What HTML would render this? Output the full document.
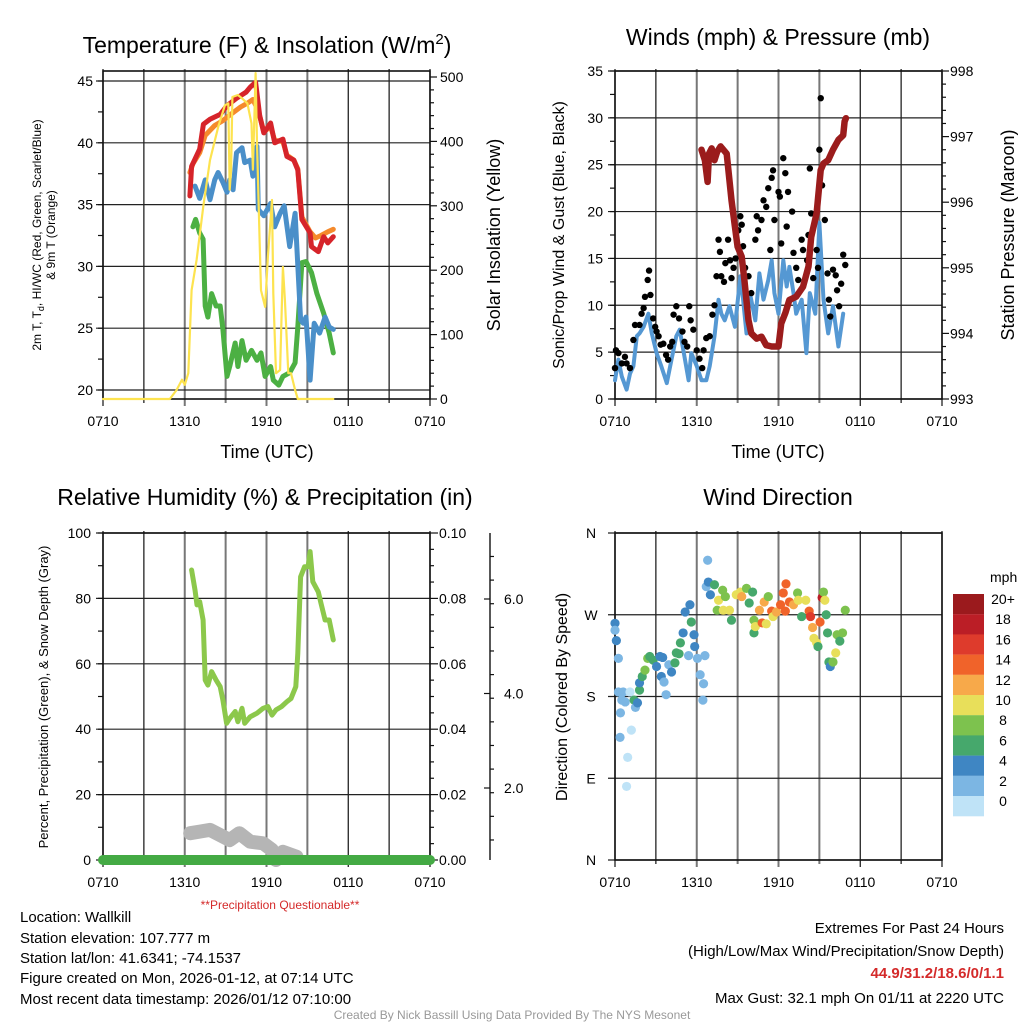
<!DOCTYPE html>
<html><head><meta charset="utf-8">
<style>
html,body{margin:0;padding:0;background:#fff;}
svg{display:block;font-family:"Liberation Sans",Arial,sans-serif;}
</style></head>
<body>
<svg id="chart" width="1024" height="1024" viewBox="0 0 1024 1024" xmlns="http://www.w3.org/2000/svg">
<rect x="0" y="0" width="1024" height="1024" fill="#fff"/>
<text x="267" y="53" font-size="23" text-anchor="middle">Temperature (F) &amp; Insolation (W/m<tspan dy="-9" font-size="15">2</tspan><tspan dy="9">)</tspan></text>
<text x="778" y="45" font-size="23" text-anchor="middle">Winds (mph) &amp; Pressure (mb)</text>
<text x="265" y="505" font-size="23" text-anchor="middle">Relative Humidity (%) &amp; Precipitation (in)</text>
<text x="778" y="505" font-size="23" text-anchor="middle">Wind Direction</text>

<text transform="translate(41,235) rotate(-90)" font-size="12" text-anchor="middle">2m T, T<tspan font-size="9" dy="3">d</tspan><tspan dy="-3">, HI/WC (Red, Green, Scarlet/Blue)</tspan></text>
<text transform="translate(55,235) rotate(-90)" font-size="12" text-anchor="middle">&amp; 9m T (Orange)</text>
<text transform="translate(500,235) rotate(-90)" font-size="18" text-anchor="middle">Solar Insolation (Yellow)</text>
<text x="267" y="458" font-size="18" text-anchor="middle">Time (UTC)</text>
<text x="778" y="458" font-size="18" text-anchor="middle">Time (UTC)</text>
<text transform="translate(564,235) rotate(-90)" font-size="16" text-anchor="middle">Sonic/Prop Wind &amp; Gust (Blue, Black)</text>
<text transform="translate(1014,235) rotate(-90)" font-size="18" text-anchor="middle">Station Pressure (Maroon)</text>
<text transform="translate(48,697) rotate(-90)" font-size="13" text-anchor="middle">Percent, Precipitation (Green), &amp; Snow Depth (Gray)</text>
<text transform="translate(567,697) rotate(-90)" font-size="16" text-anchor="middle">Direction (Colored By Speed)</text>
<text x="280" y="909" font-size="12" fill="#d42a2a" text-anchor="middle">**Precipitation Questionable**</text>

<g font-size="15">
<text x="20" y="922">Location: Wallkill</text>
<text x="20" y="943">Station elevation: 107.777 m</text>
<text x="20" y="963">Station lat/lon: 41.6341; -74.1537</text>
<text x="20" y="983">Figure created on Mon, 2026-01-12, at 07:14 UTC</text>
<text x="20" y="1004">Most recent data timestamp: 2026/01/12 07:10:00</text>
</g>
<g font-size="15" text-anchor="end">
<text x="1004" y="933">Extremes For Past 24 Hours</text>
<text x="1004" y="956">(High/Low/Max Wind/Precipitation/Snow Depth)</text>
<text x="1004" y="978" fill="#d42a2a" font-weight="bold">44.9/31.2/18.6/0/1.1</text>
<text x="1004" y="1003">Max Gust: 32.1 mph On 01/11 at 2220 UTC</text>
</g>
<text x="512" y="1019" font-size="12" fill="#999" text-anchor="middle">Created By Nick Bassill Using Data Provided By The NYS Mesonet</text>
</svg>
<script>
// ---------------- data ----------------
const xTickLabels = ["0710","1310","1910","0110","0710"];
const airT_h = [6.38,6.5,7.1,7.37,7.85,8.6,9.1,9.8,10.5,10.8,11.2,11.5,11.8,12.3,12.6,13.2,13.5,14,14.3,14.6,15.2,15.3,15.8,16.2,16.5,16.9];
const airT_v = [35.7,38.1,39.5,41.5,41.9,42.3,43.0,43.6,44.1,44.5,44.9,42.2,40.8,41.6,40.0,40.3,38.9,38.6,37.8,33.8,32.7,31.6,31.2,32.4,31.9,32.4];
const t9m_h = [6.38,6.6,7.1,7.5,8.2,8.8,9.5,10.1,10.6,11.0,11.4,11.8,12.3,12.6,13.2,13.5,14,14.3,14.6,15.2,15.6,16.0,16.5,16.9];
const t9m_v = [37.6,38.3,39.2,40.6,41.4,41.8,42.4,42.9,43.2,43.5,42.6,40.9,41.3,40.2,40.1,39.0,38.6,37.9,34.0,32.8,32.3,32.5,32.8,33.0];
const hiwc_h = [6.75,7.1,7.5,7.85,8.2,8.45,8.8,9.1,9.3,9.55,9.8,10.2,10.4,10.8,11,11.3,11.4,11.8,12.3,12.6,13,13.3,13.7,14.1,14.5,14.7,14.9,15.2,15.5,15.9,16.3,16.6,16.9];
const hiwc_v = [36.5,35.5,37,35.4,37,37.6,36.8,36.0,37,36.2,39.2,39.6,38.4,38.6,37.3,39.7,34.6,34.1,35.1,33.2,34.3,34.9,31.6,34.3,25.7,25.4,25.9,20.8,25.4,24.6,25.9,25.1,24.9];
const dew_h = [6.6,6.8,7.1,7.35,7.5,7.7,7.97,8.3,8.6,8.8,9.1,9.3,9.7,9.9,10.2,10.5,10.9,11.3,11.6,11.9,12.3,12.5,12.9,13.2,13.7,14.1,14.3,14.6,14.9,15.3,15.7,16.2,16.6,16.9];
const dew_v = [33.2,33.8,32.7,32.2,26.8,25.9,27.8,26.8,26.8,24.9,21.1,21.9,23.8,21.9,24,22.4,23.2,22.4,23,21.1,21.9,20.8,20.4,21.1,21.4,22.2,25.1,30.3,30.4,29.5,27.8,26.2,24.6,23];
const solar_h = [0,4.9,5.4,5.8,6,6.26,6.5,6.87,7.36,7.85,8.46,8.95,9.2,9.3,9.4,9.5,9.9,10.2,10.6,10.9,11,11.2,11.3,11.5,11.6,11.9,12.1,12.4,12.5,12.7,13,13.2,13.35,13.6,13.8,14.1,14.3,16.9];
const solar_v = [0,0,14,30,22,40,169,216,299,371,423,456,459,325,356,469,472,467,459,428,356,506,397,242,169,143,221,309,164,40,45,205,154,40,40,14,0,0];
const wind_h = [0,0.25,0.5,0.85,1.1,1.35,1.6,1.8,2.1,2.45,2.7,3.05,3.4,3.8,4.15,4.5,4.75,5.1,5.4,5.6,6.0,6.35,6.7,6.95,7.3,7.6,7.8,8.05,8.4,8.8,9.2,9.4,9.65,9.9,10.3,10.6,10.9,11.25,11.5,11.7,12,12.35,12.6,12.8,13.1,13.3,13.7,14.05,14.3,14.7,15,15.3,15.65,16,16.4,16.75];
const wind_v = [2.0,4.2,2.4,1.0,2.7,3.5,6.7,7.0,7.7,9.1,7.0,4.9,3.5,1.7,4.2,6.7,7.4,4.5,2.0,4.9,3.5,2.0,2.0,3.5,6.7,10.6,9.1,8.4,9.9,7.7,13.1,10.6,7.0,11.3,8.4,13.4,10.6,12.7,14.8,11.3,9.1,14.8,12.0,14.1,11.3,9.1,10.6,4.9,11.3,9.1,18.8,10.6,7.0,9.9,5.6,9.1];
const gust_h = [0,0.07,0.25,0.5,0.73,0.85,1.1,1.35,1.47,1.8,1.95,2.1,2.2,2.4,2.5,2.6,2.8,2.95,3.05,3.2,3.35,3.55,3.75,3.9,4.05,4.2,4.3,4.5,4.7,4.95,5.1,5.3,5.45,5.55,5.75,6,6.2,6.4,6.5,6.7,6.95,7.15,7.3,7.45,7.6,7.7,7.8,8,8.1,8.3,8.45,8.55,8.7,8.85,9.05,9.2,9.3,9.4,9.55,9.8,10,10.3,10.4,10.5,10.75,10.9,11.1,11.25,11.4,11.5,11.6,11.7,12,12.1,12.2,12.35,12.5,12.6,12.7,13,13.1,13.3,13.45,13.7,13.8,14.1,14.2,14.3,14.4,14.55,14.8,14.9,15,15.1,15.2,15.4,15.6,15.7,15.8,16,16.2,16.3,16.45,16.6,16.75,16.9];
const gust_v = [3.3,5.2,4.9,3.8,4.5,3.8,3.3,6.3,7.9,7.9,9.1,9.7,10.9,12.7,13.7,11.1,8.6,7.7,7.2,6.7,5.8,5.9,4.7,4.2,5.6,6.1,9.0,9.9,8.6,7.2,6.1,5.6,9.9,8.4,7.4,5.2,4.3,3.3,5.2,6.5,6.7,9.0,10.0,13.1,17.0,15.7,13.1,12.5,14.5,17.0,14.8,12.9,14.0,15.0,18.0,19.5,18.6,16.3,14.0,13.1,11.3,17.0,19.5,18.0,19.1,21.2,20.5,22.5,15.9,23.6,24.4,19.1,22.1,21.6,16.6,25.7,24.1,18.4,22.1,20.0,15.6,14.0,12.7,17.0,15.9,14.8,17.5,24.6,19.8,12.9,15.9,14.0,26.6,32.1,22.8,19.1,13.4,10.6,8.8,13.8,13.2,11.6,9.9,12.3,15.4,14.3];
const pres_h = [6.35,6.6,6.8,6.9,7.1,7.3,7.5,7.75,8.2,8.55,8.8,9.0,9.3,9.5,9.8,10,10.4,10.75,11.1,11.5,12,12.2,12.5,12.8,13.3,13.8,14.2,14.4,14.8,15.1,15.3,15.65,16,16.4,16.75,16.85,16.95];
const pres_v = [996.8,996.64,996.31,996.74,996.82,996.64,996.77,996.85,996.74,996.03,995.63,995.32,995.17,994.81,994.2,994.0,993.92,993.95,993.82,993.8,993.8,994.15,994.31,994.51,994.56,994.71,995.02,995.47,995.83,996.49,996.59,996.64,996.8,996.95,997.02,997.23,997.28];
const rh_h = [6.5,6.75,6.9,7.1,7.35,7.5,7.7,7.97,8.3,8.6,8.8,9.07,9.3,9.7,9.9,10.2,10.4,10.8,11.3,11.75,12.1,12.4,12.7,13.1,13.5,13.8,14.15,14.3,14.5,14.8,15.05,15.2,15.4,15.8,16,16.3,16.6,16.9];
const rh_v = [88.7,82.6,78,79,73.4,55,53.5,57.6,55,53,48.9,41.8,43.3,45.4,42.3,46.4,41.8,43.8,44.9,46.4,46.9,44.3,45.9,46.9,48.4,49.4,53,63.2,86.6,89.7,89.7,94.3,85.1,82,78.5,73.4,73.4,67.3];
const snow_h = [6.4,7.1,7.85,8.6,9.3,10,10.8,11.75,12.4,12.7,13.2,14.2];
const snow_v = [8.2,8.7,9.2,7.6,6.1,8.2,5.6,5.1,3.1,0,2.5,1];
const precip_h = [0,24];
const precip_v = [0,0];
const dir_h = [0,0,0.1,0.25,0.25,0.6,0.5,0.75,0.4,0.37,0.93,0.85,1.2,1.1,1.4,1.5,1.65,1.8,1.8,2,2.2,2.4,2.55,2.8,3.05,3.3,3.5,3.4,3.6,3.75,3.95,4.15,4.4,4.5,4.7,4.8,5,5.15,5.4,5.5,5.6,5.8,5.85,6.05,6.25,6.5,6.45,6.6,6.8,6.7,6.85,7.0,7.3,7.6,7.5,7.9,8.1,7.95,8.4,8.55,8.9,9.2,9.3,9.65,9.85,10.1,10.2,10.2,10.3,10.6,10.8,10.95,11.1,11.25,11.5,11.6,11.85,12.15,12.35,12.55,12.5,12.8,13.1,13.4,13.45,13.7,14,14.25,14.35,14.5,14.6,14.8,14.9,15.05,15.2,15.3,15.4,15.5,15.6,15.7,15.8,16,16.2,16.3,16.5,16.7,16.9];
const dir_deg = [260.6,253,241.5,222,185,185,176,174,162,135,113,81,143,185,176,168,173,187,195,202,209,222,224,220,213,224,223,202,196,182,215,207,217,228,227,239,250,273,225,281,262,248,235,222,204,194,176,225,330,301,306,292,303,286,275,297,290,275,275,264,292,295,290,299,283,295,264,250,257,275,261,284,260,290,274,268,273,281,294,304,274,284,281,294,286,268,286,274,268,256,244,239,235,262,289,295,286,270,250,218,213,218,228,248,241,250,275];
const dir_spd = [4,2,4,2,2,2,2,2,2,2,0,0,0,0,6,2,4,6,4,6,8,8,6,6,4,4,4,4,2,2,2,4,6,6,6,6,4,4,2,4,6,4,4,2,2,2,2,2,2,2,4,4,6,10,8,8,8,10,10,6,10,10,12,8,6,6,8,6,10,12,14,12,10,8,14,10,12,14,14,14,14,14,12,8,10,6,10,14,16,12,10,10,6,14,18,8,10,6,6,6,4,8,10,8,6,8,8];
const cbar_labels = ["20+","18","16","14","12","10","8","6","4","2","0"];
const cbar_colors = ["#9b1a1d","#bb1e26","#de3b2c","#f0632a","#f7a94a","#e8df5a","#7dc24e","#46a86c","#3f86c3","#7cb6e3","#bfe3f7"];

// ---------------- drawing ----------------
const NS = "http://www.w3.org/2000/svg";
const svg = document.getElementById('chart');
function mk(tag, attrs, parent){
  const e = document.createElementNS(NS, tag);
  for (const k in attrs) e.setAttribute(k, attrs[k]);
  (parent || svg).appendChild(e);
  return e;
}
function sc(d0,d1,r0,r1){ return v => r0 + (v-d0)*(r1-r0)/(d1-d0); }
function speedColor(s){ let i = Math.min(10, Math.floor(s/2)); return cbar_colors[10-i]; }

const P1={x0:103,x1:430,y0:71,y1:399}, P2={x0:615,x1:942,y0:71,y1:399};
const P3={x0:103,x1:430,y0:533,y1:860}, P4={x0:615,x1:942,y0:533,y1:860};

function frame(P, name, hy){
  const xs = sc(0,24,P.x0,P.x1);
  const g = mk('g',{});
  
  
  for (let h=0; h<=24; h+=3){
    const gray = (h>=6 && h<=15);
    const l = mk('line',{x1:xs(h),x2:xs(h),y1:P.y0-2,y2:P.y1+(h%6==0?7:4),stroke:(gray?'#777':'#111'),'stroke-width':(gray?2:1.2)},g);
    
    
  }
  hy.forEach(y=>{
    const l = mk('line',{x1:P.x0-7,x2:P.x1,y1:y,y2:y,stroke:'#222','stroke-width':1.2},g);
    
    
  });
  const r = mk('rect',{x:P.x0,y:P.y0,width:P.x1-P.x0,height:P.y1-P.y0,fill:'none',stroke:'#111','stroke-width':1.6},g);
  
  
  xTickLabels.forEach((t,i)=>{
    const tx = mk('text',{x:xs(i*6),y:P.y1+27,'font-size':14,'text-anchor':'middle'});
    tx.textContent = t;
    
    
  });
  return xs;
}
function ticksLabel(x, y, label, anchor, name, fs){
  const t = mk('text',{x:x,y:y+5,'font-size':fs||14,'text-anchor':anchor});
  t.textContent = label;
  
  
}
function tick(x1,x2,y,name,w){
  const l = mk('line',{x1:x1,x2:x2,y1:y,y2:y,stroke:'#111','stroke-width':w||1.2});
  
  
}
function polyline(hs, vs, xs, ys, color, w, name, cap){
  const pts = hs.map((h,i)=>xs(h).toFixed(1)+','+ys(vs[i]).toFixed(1)).join(' ');
  const p = mk('polyline',{points:pts,fill:'none',stroke:color,'stroke-width':w,'stroke-linejoin':'round','stroke-linecap':cap||'round'});
  
  
}

// Panel 1
{
  const ys = sc(20,45,390,81), yr = sc(0,500,399,77);
  const hy=[]; for(let v=20; v<=45; v+=5) hy.push(ys(v));
  const xs = frame(P1,'temp',hy);
  for(let v=20; v<=45; v+=5) ticksLabel(P1.x0-10, ys(v), String(v), 'end', 'temp-y-tick-label');
  for(let v=20; v<=45; v+=2.5) tick(P1.x0-5,P1.x0,ys(v),'temp-y-tick');
  for(let v=0; v<=500; v+=20) tick(P1.x1,P1.x1+(v%100==0?7:4),yr(v),'solar-y-tick');
  for(let v=0; v<=500; v+=100) ticksLabel(P1.x1+10, yr(v), String(v), 'start', 'solar-y-tick-label');
  polyline(dew_h, dew_v, xs, ys, '#4cb043', 5, 'dewpoint-line');
  polyline(hiwc_h, hiwc_v, xs, ys, '#4a8fc9', 5, 'heat-index-wind-chill-line');
  polyline(t9m_h, t9m_v, xs, ys, '#f58a2c', 5, 'temp-9m-line');
  polyline(airT_h, airT_v, xs, ys, '#d6242a', 5, 'temp-2m-line');
  polyline(solar_h, solar_v, xs, yr, '#fde34f', 2.2, 'solar-insolation-line');
}
// Panel 2
{
  const ys = sc(0,35,399,71), yp = sc(993,998,399,71);
  const hy=[]; for(let v=0; v<=35; v+=5) hy.push(ys(v));
  const xs = frame(P2,'wind',hy);
  for(let v=0; v<=35; v+=5) ticksLabel(P2.x0-12, ys(v), String(v), 'end', 'wind-y-tick-label');
  for(let v=0; v<=35; v+=2.5) tick(P2.x0-5,P2.x0,ys(v),'wind-y-tick');
  for(let v=993; v<=998.001; v+=0.2) tick(P2.x1,P2.x1+(Math.abs(v-Math.round(v))<0.01?7:4),yp(v),'pressure-y-tick');
  for(let v=993; v<=998; v++) ticksLabel(P2.x1+8, yp(v), String(v), 'start', 'pressure-y-tick-label');
  polyline(wind_h, wind_v, xs, ys, '#5598d3', 4, 'sonic-wind-line');
  gust_h.forEach((h,i)=>{
    const c = mk('circle',{cx:xs(h),cy:ys(gust_v[i]),r:3.2,fill:'#000'});
    
    
  });
  polyline(pres_h, pres_v, xs, yp, '#9b1c1c', 6.5, 'pressure-line');
}
// Panel 3
{
  const ys = sc(0,100,860,533), yr = sc(0,0.1,860,533);
  const hy=[]; for(let v=0; v<=100; v+=20) hy.push(ys(v));
  const xs = frame(P3,'rh',hy);
  for(let v=0; v<=100; v+=20) ticksLabel(P3.x0-12, ys(v), String(v), 'end', 'rh-y-tick-label');
  for(let v=0; v<=100; v+=10) tick(P3.x0-5,P3.x0,ys(v),'rh-y-tick');
  for(let i=0;i<=20;i++) tick(P3.x1,P3.x1+(i%4==0?8:4),yr(i*0.005),'precip-y-tick');
  for(let i=0;i<=5;i++) ticksLabel(P3.x1+9, yr(i*0.02), (i*0.02).toFixed(2), 'start', 'precip-y-tick-label');
  const ax = mk('line',{x1:490,x2:490,y1:533,y2:860,stroke:'#111','stroke-width':1.4});
  
  
  const ysn = sc(2,6,788,599);
  for(let v=0.4; v<=7.0; v+=0.5) { const y=ysn(v); if(y>=533&&y<=860) tick(490,494,y,'snow-y-minor-tick'); }
  [2,4,6].forEach(v=>{ tick(484,490,ysn(v),'snow-y-tick'); ticksLabel(504, ysn(v), v.toFixed(1), 'start', 'snow-y-tick-label'); });
  polyline(snow_h, snow_v, xs, ys, '#b5b5b5', 14, 'snow-depth-line');
  polyline(precip_h, precip_v, xs, yr, '#44aa44', 10, 'precip-line');
  polyline(rh_h, rh_v, xs, ys, '#8cc84b', 5, 'rh-line');
}
// Panel 4
{
  const ys = sc(0,360,860,533);
  const hy=[]; for(let v=0; v<=360; v+=90) hy.push(ys(v));
  const xs = frame(P4,'direction',hy);
  ["N","E","S","W","N"].forEach((t,i)=>ticksLabel(P4.x0-24, ys(i*90), t, 'middle', 'direction-y-tick-label'));
  dir_h.forEach((h,i)=>{
    const c = mk('circle',{cx:xs(h),cy:ys(dir_deg[i]),r:4.6,fill:speedColor(dir_spd[i])});
    
    
  });
  ticksLabel(990, 577, 'mph', 'start', 'colorbar-title', 14);
  cbar_colors.forEach((col,i)=>{
    const r = mk('rect',{x:953,y:594+i*20.2,width:31,height:20.3,fill:col});
    
    
    ticksLabel(1003, 599+i*20.2, cbar_labels[i], 'middle', 'colorbar-label', 14);
  });
}
</script>
</body></html>
